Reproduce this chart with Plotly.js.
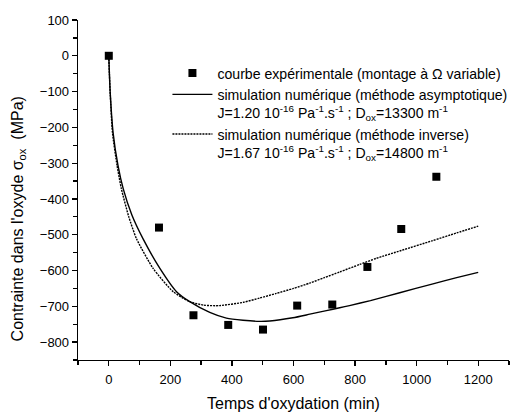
<!DOCTYPE html>
<html>
<head>
<meta charset="utf-8">
<script src="https://cdn.plot.ly/plotly-3.0.1.min.js"></script>
<style>html,body{margin:0;padding:0;background:#fff;}#chart{width:527px;height:412px;}</style>
</head>
<body>
<div id="chart"></div>
<script>
// Experimental points
const expTime = [0, 163, 275, 388, 501, 612, 726, 840, 950, 1064];
const expStress = [0, -480, -725, -752, -765, -698, -695, -590, -484, -338];

// Simulation (asymptotic method) - solid line
const asymTime = [0, 2, 5, 14, 30, 47, 75, 111, 166, 220, 263, 328, 382, 436, 490, 523, 598, 653, 707, 750, 782, 850, 945, 1050, 1130, 1200];
const asymStress = [0, -50, -110, -215, -307, -372, -445, -511, -594, -659, -687, -717, -733, -739, -742, -741, -732, -722, -712, -704, -698, -684, -662, -638, -620, -605];

// Simulation (inverse method) - dotted line
const invTime = [0, 2, 5, 12, 27, 41, 65, 90, 144, 209, 263, 310, 360, 436, 490, 544, 600, 653, 700, 750, 815, 869, 950, 1050, 1130, 1200];
const invStress = [0, -50, -110, -215, -307, -372, -450, -511, -594, -659, -687, -697, -698, -689, -677, -664, -650, -635, -620, -604, -583, -566, -544, -517, -495, -476];

const names = [
  "courbe expérimentale (montage à Ω variable)",
  "simulation numérique (méthode asymptotique)<br>J=1.20 10<sup>-16</sup> Pa<sup>-1</sup>.s<sup>-1</sup> ; D<sub>ox</sub>=13300 m<sup>-1</sup>",
  "simulation numérique (méthode inverse)<br>J=1.67 10<sup>-16</sup> Pa<sup>-1</sup>.s<sup>-1</sup> ; D<sub>ox</sub>=14800 m<sup>-1</sup>"
];
const xTitle = "Temps d'oxydation (min)";
const yTitle = "Contrainte dans l'oxyde σ<sub>ox</sub>  (MPa)";

const traces = [
  {x: expTime, y: expStress, type: 'scatter', mode: 'markers', name: names[0],
   marker: {symbol: 'square', size: 8, color: '#000'}},
  {x: asymTime, y: asymStress, type: 'scatter', mode: 'lines', name: names[1],
   line: {color: '#000', width: 1.4, shape: 'spline', smoothing: 0.6}},
  {x: invTime, y: invStress, type: 'scatter', mode: 'lines', name: names[2],
   line: {color: '#000', width: 1.4, dash: '2px,1px', shape: 'spline', smoothing: 0.6}}
];

const font = {family: 'Liberation Sans, Arial, sans-serif', color: '#000'};

const layout = {
  width: 527, height: 412,
  margin: {l: 78, r: 18, t: 20, b: 52, autoexpand: false},
  paper_bgcolor: '#fff', plot_bgcolor: '#fff',
  font: Object.assign({size: 13}, font),
  showlegend: true,
  legend: {x: 0.2075, y: 0.89, xanchor: 'left', yanchor: 'top', bgcolor: 'rgba(0,0,0,0)',
           font: Object.assign({size: 14.1}, font), valign: 'top', itemwidth: 40},
  xaxis: {
    range: [-100, 1300], tick0: 0, dtick: 200, showgrid: false, zeroline: false,
    showline: true, linecolor: '#000', linewidth: 1.3, automargin: false,
    ticks: 'outside', ticklen: 5, tickwidth: 1.3, tickcolor: '#000', ticklabelstandoff: 2,
    minor: {dtick: 100, ticks: 'outside', ticklen: 4, tickwidth: 1.3, tickcolor: '#000', showgrid: false},
    tickfont: Object.assign({size: 13}, font),
    title: {text: xTitle, font: Object.assign({size: 16}, font), standoff: 13}
  },
  yaxis: {
    range: [-850, 100], tick0: 0, dtick: 100, showgrid: false, zeroline: false,
    showline: true, linecolor: '#000', linewidth: 1.3, automargin: false,
    ticks: 'outside', ticklen: 5, tickwidth: 1.3, tickcolor: '#000',
    minor: {dtick: 50, ticks: 'outside', ticklen: 4, tickwidth: 1.3, tickcolor: '#000', showgrid: false},
    tickfont: Object.assign({size: 13}, font)
  },
  annotations: [
    {text: yTitle, xref: 'paper', yref: 'paper', x: -0.138, y: 0.415,
     xanchor: 'center', yanchor: 'middle', textangle: -90, showarrow: false,
     font: Object.assign({size: 16}, font)}
  ]
};

Plotly.newPlot('chart', traces, layout, {displayModeBar: false, staticPlot: true});
</script>
</body>
</html>
